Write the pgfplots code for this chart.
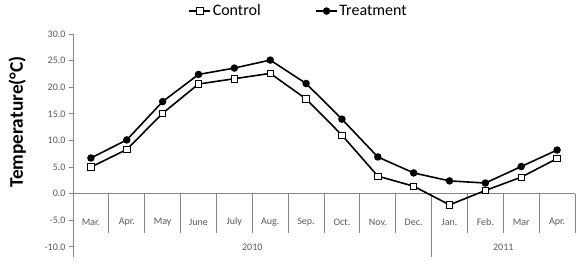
\documentclass[border=0pt]{standalone}
\usepackage{fontspec}
\setmainfont{Carlito}
\usepackage{pgfplots}
\pgfplotsset{compat=1.18}
\definecolor{ticktext}{RGB}{89,89,89}
\definecolor{rulegray}{RGB}{134,134,134}

\begin{document}
\begin{tikzpicture}
\begin{axis}[
  name=ax,
  scale only axis, width=502pt, height=223pt,
  xmin=0, xmax=14, ymin=-11.9, ymax=30,
  axis x line=none, axis y line*=left,
  xtick=\empty,
  ytick={-10,-5,...,30},
  yticklabel style={/pgf/number format/.cd, fixed, fixed zerofill, precision=1, assume math mode=true},
  tick label style={font=\fontsize{10}{12}\selectfont, text=ticktext},
  tick align=outside, major tick length=4pt,
  y axis line style={draw=rulegray, line width=0.9pt},
  ytick style={draw=rulegray, line width=0.9pt},
  clip=false,
  ylabel={\textbf{Temperature(°C)}},
  ylabel style={font=\fontsize{19.3}{22}\selectfont, at={(axis description cs:-0.111,0.605)}, anchor=center},
  legend columns=2,
  legend style={draw=none, fill=none, font=\fontsize{16}{18}\selectfont,
    at={(axis description cs:0.230,1.103)}, anchor=west, inner sep=0pt,
    nodes={inner xsep=1.5pt},
    /tikz/every even column/.append style={column sep=53pt}},
  legend image code/.code={%
    \draw[mark repeat=2, mark phase=2, #1] plot coordinates {(0pt,0pt) (10.5pt,0pt) (21pt,0pt)};},
  legend cell align=left,
]
% category axis at zero
\draw[rulegray, line width=0.9pt] (axis cs:0,0) -- (axis cs:14,0);
\draw[rulegray, line width=0.9pt] (axis cs:1,0) -- (axis cs:1,-7.3);
\draw[rulegray, line width=0.9pt] (axis cs:2,0) -- (axis cs:2,-7.3);
\draw[rulegray, line width=0.9pt] (axis cs:3,0) -- (axis cs:3,-7.3);
\draw[rulegray, line width=0.9pt] (axis cs:4,0) -- (axis cs:4,-7.3);
\draw[rulegray, line width=0.9pt] (axis cs:5,0) -- (axis cs:5,-7.3);
\draw[rulegray, line width=0.9pt] (axis cs:6,0) -- (axis cs:6,-7.3);
\draw[rulegray, line width=0.9pt] (axis cs:7,0) -- (axis cs:7,-7.3);
\draw[rulegray, line width=0.9pt] (axis cs:8,0) -- (axis cs:8,-7.3);
\draw[rulegray, line width=0.9pt] (axis cs:9,0) -- (axis cs:9,-7.3);
\draw[rulegray, line width=0.9pt] (axis cs:10,0) -- (axis cs:10,-11.9);
\draw[rulegray, line width=0.9pt] (axis cs:11,0) -- (axis cs:11,-7.3);
\draw[rulegray, line width=0.9pt] (axis cs:12,0) -- (axis cs:12,-7.3);
\draw[rulegray, line width=0.9pt] (axis cs:13,0) -- (axis cs:13,-7.3);
\draw[rulegray, line width=0.9pt] (axis cs:14,0) -- (axis cs:14,-7.3);
% month and year labels
\begin{scope}[every node/.style={font=\fontsize{10}{12}\selectfont, text=ticktext}]
\node at (axis cs:0.5,-5.3) {Mar.};
\node at (axis cs:1.5,-5.3) {Apr.};
\node at (axis cs:2.5,-5.3) {May};
\node at (axis cs:3.5,-5.3) {June};
\node at (axis cs:4.5,-5.3) {July};
\node at (axis cs:5.5,-5.3) {Aug.};
\node at (axis cs:6.5,-5.3) {Sep.};
\node at (axis cs:7.5,-5.3) {Oct.};
\node at (axis cs:8.5,-5.3) {Nov.};
\node at (axis cs:9.5,-5.3) {Dec.};
\node at (axis cs:10.5,-5.3) {Jan.};
\node at (axis cs:11.5,-5.3) {Feb.};
\node at (axis cs:12.5,-5.3) {Mar};
\node at (axis cs:13.5,-5.3) {Apr.};
\node at (axis cs:5,-10.1) {2010};
\node at (axis cs:12,-10.1) {2011};
\end{scope}
\addplot[black, line width=1.6pt, mark=square*, mark size=3.2pt,
  mark options={fill=white, line width=0.8pt}]
  coordinates {(0.5,5.0) (1.5,8.3) (2.5,15.1) (3.5,20.6) (4.5,21.6) (5.5,22.6) (6.5,17.8)
    (7.5,11.0) (8.5,3.3) (9.5,1.4) (10.5,-2.1) (11.5,0.6) (12.5,3.1) (13.5,6.6)};
\addlegendentry{Control}
\addplot[black, line width=1.6pt, mark=*, mark size=2.9pt, mark options={fill=black}]
  coordinates {(0.5,6.7) (1.5,10.1) (2.5,17.3) (3.5,22.4) (4.5,23.6) (5.5,25.1) (6.5,20.7)
    (7.5,14.0) (8.5,6.9) (9.5,3.9) (10.5,2.4) (11.5,2.0) (12.5,5.1) (13.5,8.2)};
\addlegendentry{Treatment}
\end{axis}
\pgfresetboundingbox
\path ([shift={(-73pt,-6pt)}]ax.south west) rectangle ([shift={(504pt,257pt)}]ax.south west);
\end{tikzpicture}
\end{document}
